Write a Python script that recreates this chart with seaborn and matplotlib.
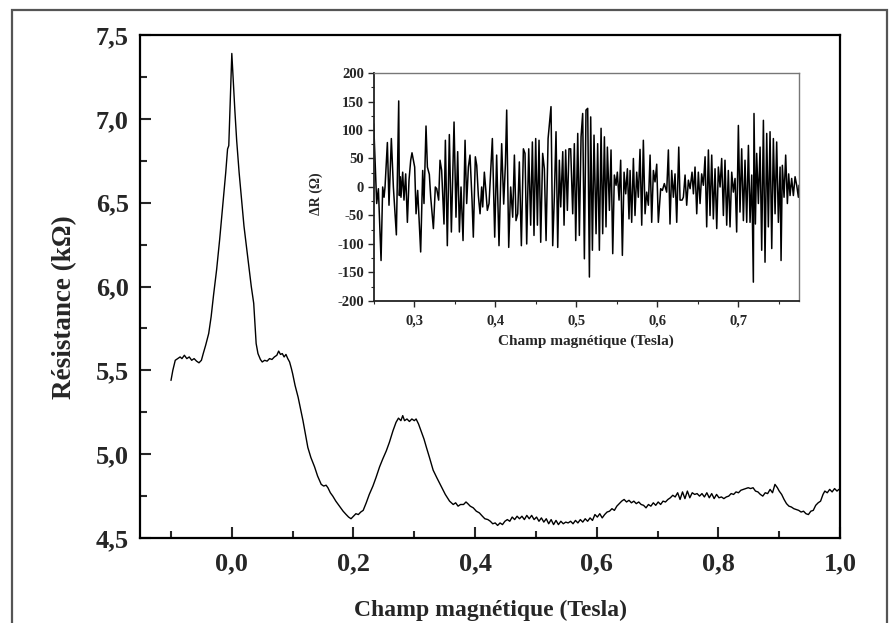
import numpy as np
import pandas as pd
import matplotlib
matplotlib.use("Agg")
import matplotlib.pyplot as plt
import matplotlib.ticker as mticker
from matplotlib.patches import Rectangle
import seaborn as sns

# ---------------- data: main curve ----------------
field_main = [
    -0.100, -0.097, -0.093, -0.089, -0.085, -0.082, -0.078, -0.074, -0.070, -0.066,
    -0.062, -0.058, -0.054, -0.050, -0.047, -0.043, -0.038, -0.034, -0.030, -0.025,
    -0.020, -0.015, -0.010, -0.007, -0.005, 0.000, 0.002, 0.005, 0.008, 0.012,
    0.016, 0.020, 0.024, 0.028, 0.032, 0.036, 0.038, 0.040, 0.043, 0.047,
    0.050, 0.054, 0.058, 0.062, 0.066, 0.070, 0.074, 0.077, 0.080, 0.083,
    0.086, 0.089, 0.092, 0.095, 0.098, 0.100, 0.104, 0.109, 0.113, 0.117,
    0.121, 0.125, 0.130, 0.136, 0.141, 0.147, 0.151, 0.155, 0.158, 0.162,
    0.166, 0.171, 0.177, 0.183, 0.188, 0.192, 0.196, 0.200, 0.204, 0.208,
    0.212, 0.216, 0.221, 0.226, 0.232, 0.237, 0.243, 0.248, 0.254, 0.259,
    0.265, 0.270, 0.274, 0.278, 0.281, 0.284, 0.288, 0.292, 0.296, 0.300,
    0.303, 0.307, 0.311, 0.316, 0.320, 0.325, 0.331, 0.337, 0.344, 0.351,
    0.358, 0.364, 0.368, 0.372, 0.376, 0.381, 0.385, 0.388, 0.392, 0.397,
    0.402, 0.407, 0.412, 0.416, 0.421, 0.425, 0.429, 0.433, 0.437, 0.441,
    0.445, 0.449, 0.453, 0.457, 0.461, 0.465, 0.469, 0.473, 0.477, 0.481,
    0.485, 0.489, 0.493, 0.497, 0.501, 0.505, 0.509, 0.513, 0.517, 0.521,
    0.525, 0.529, 0.533, 0.537, 0.541, 0.545, 0.549, 0.553, 0.557, 0.561,
    0.565, 0.569, 0.573, 0.577, 0.581, 0.585, 0.589, 0.593, 0.597, 0.601,
    0.605, 0.609, 0.613, 0.617, 0.621, 0.625, 0.629, 0.633, 0.637, 0.641,
    0.645, 0.649, 0.653, 0.657, 0.661, 0.665, 0.669, 0.673, 0.677, 0.681,
    0.685, 0.689, 0.693, 0.697, 0.701, 0.705, 0.709, 0.713, 0.717, 0.721,
    0.725, 0.729, 0.733, 0.737, 0.741, 0.745, 0.749, 0.753, 0.757, 0.761,
    0.765, 0.769, 0.773, 0.777, 0.781, 0.785, 0.789, 0.793, 0.797, 0.801,
    0.805, 0.809, 0.813, 0.817, 0.821, 0.825, 0.829, 0.833, 0.837, 0.841,
    0.845, 0.849, 0.853, 0.857, 0.861, 0.865, 0.869, 0.873, 0.877, 0.881,
    0.885, 0.889, 0.893, 0.897, 0.900, 0.904, 0.908, 0.912, 0.916, 0.920,
    0.924, 0.928, 0.932, 0.936, 0.940, 0.944, 0.948, 0.952, 0.956, 0.960,
    0.964, 0.968, 0.972, 0.975, 0.979, 0.983, 0.987, 0.991, 0.995, 0.998,
]
resistance_main = [
    5.44, 5.50, 5.56, 5.57, 5.58, 5.57, 5.59, 5.57, 5.58, 5.56,
    5.57, 5.555, 5.545, 5.56, 5.60, 5.65, 5.72, 5.82, 5.95, 6.10,
    6.28, 6.48, 6.68, 6.82, 6.84, 7.39, 7.25, 7.05, 6.87, 6.68,
    6.52, 6.36, 6.24, 6.12, 6.00, 5.90, 5.78, 5.66, 5.60, 5.565,
    5.55, 5.56, 5.555, 5.57, 5.565, 5.58, 5.59, 5.615, 5.595, 5.60,
    5.58, 5.595, 5.57, 5.55, 5.51, 5.48, 5.41, 5.34, 5.27, 5.20,
    5.12, 5.04, 4.98, 4.925, 4.87, 4.82, 4.81, 4.815, 4.80, 4.77,
    4.75, 4.72, 4.69, 4.66, 4.64, 4.625, 4.615, 4.63, 4.645, 4.64,
    4.655, 4.665, 4.71, 4.76, 4.81, 4.86, 4.925, 4.97, 5.02, 5.07,
    5.14, 5.19, 5.215, 5.20, 5.23, 5.20, 5.21, 5.195, 5.21, 5.20,
    5.21, 5.18, 5.14, 5.09, 5.04, 4.98, 4.905, 4.86, 4.81, 4.76,
    4.72, 4.70, 4.71, 4.69, 4.70, 4.70, 4.715, 4.705, 4.69, 4.68,
    4.66, 4.65, 4.63, 4.615, 4.61, 4.60, 4.585, 4.59, 4.575, 4.59,
    4.58, 4.60, 4.61, 4.60, 4.625, 4.61, 4.63, 4.615, 4.63, 4.61,
    4.635, 4.615, 4.635, 4.61, 4.625, 4.60, 4.62, 4.595, 4.615, 4.585,
    4.61, 4.58, 4.605, 4.58, 4.60, 4.585, 4.595, 4.59, 4.60, 4.585,
    4.605, 4.59, 4.61, 4.595, 4.615, 4.60, 4.62, 4.605, 4.64, 4.625,
    4.645, 4.62, 4.64, 4.655, 4.66, 4.675, 4.665, 4.69, 4.705, 4.72,
    4.73, 4.715, 4.725, 4.71, 4.72, 4.705, 4.715, 4.70, 4.695, 4.68,
    4.70, 4.69, 4.71, 4.695, 4.715, 4.70, 4.72, 4.715, 4.73, 4.74,
    4.755, 4.745, 4.77, 4.73, 4.775, 4.735, 4.78, 4.74, 4.77, 4.76,
    4.765, 4.75, 4.765, 4.745, 4.77, 4.74, 4.765, 4.735, 4.76, 4.74,
    4.745, 4.735, 4.745, 4.75, 4.765, 4.76, 4.775, 4.77, 4.785, 4.79,
    4.795, 4.80, 4.795, 4.80, 4.78, 4.775, 4.76, 4.75, 4.77, 4.765,
    4.79, 4.77, 4.82, 4.80, 4.78, 4.76, 4.73, 4.705, 4.69, 4.685,
    4.675, 4.67, 4.665, 4.655, 4.66, 4.645, 4.64, 4.66, 4.665, 4.695,
    4.71, 4.72, 4.76, 4.78, 4.77, 4.79, 4.775, 4.795, 4.78, 4.79,
]

# ---------------- data: inset ----------------
field_inset = [
    0.2500, 0.2537, 0.2558, 0.2591, 0.2611, 0.2628, 0.2640, 0.2669, 0.2689, 0.2718,
    0.2743, 0.2780, 0.2809, 0.2817, 0.2829, 0.2837, 0.2858, 0.2874, 0.2895, 0.2916,
    0.2936, 0.2957, 0.2973, 0.2990, 0.3006, 0.3023, 0.3043, 0.3080, 0.3105, 0.3121,
    0.3146, 0.3163, 0.3187, 0.3204, 0.3237, 0.3261, 0.3278, 0.3302, 0.3319, 0.3339,
    0.3368, 0.3385, 0.3409, 0.3434, 0.3459, 0.3492, 0.3516, 0.3537, 0.3558, 0.3578,
    0.3603, 0.3628, 0.3648, 0.3669, 0.3689, 0.3714, 0.3730, 0.3755, 0.3772, 0.3792,
    0.3813, 0.3833, 0.3846, 0.3866, 0.3883, 0.3903, 0.3924, 0.3965, 0.3994, 0.4018,
    0.4047, 0.4080, 0.4105, 0.4126, 0.4142, 0.4167, 0.4191, 0.4216, 0.4237, 0.4257,
    0.4278, 0.4298, 0.4323, 0.4348, 0.4368, 0.4389, 0.4414, 0.4438, 0.4459, 0.4479,
    0.4500, 0.4521, 0.4541, 0.4562, 0.4586, 0.4607, 0.4628, 0.4653, 0.4689, 0.4710,
    0.4730, 0.4751, 0.4772, 0.4792, 0.4809, 0.4834, 0.4850, 0.4870, 0.4891, 0.4911,
    0.4932, 0.4957, 0.4977, 0.4994, 0.5019, 0.5039, 0.5060, 0.5080, 0.5101, 0.5121,
    0.5142, 0.5163, 0.5179, 0.5200, 0.5220, 0.5245, 0.5265, 0.5286, 0.5307, 0.5327,
    0.5348, 0.5368, 0.5385, 0.5410, 0.5430, 0.5451, 0.5471, 0.5492, 0.5508, 0.5529,
    0.5549, 0.5570, 0.5591, 0.5611, 0.5632, 0.5652, 0.5665, 0.5685, 0.5706, 0.5726,
    0.5747, 0.5767, 0.5788, 0.5809, 0.5829, 0.5850, 0.5870, 0.5891, 0.5912, 0.5932,
    0.5953, 0.5973, 0.5994, 0.6014, 0.6043, 0.6064, 0.6088, 0.6117, 0.6138, 0.6158,
    0.6179, 0.6200, 0.6220, 0.6241, 0.6266, 0.6282, 0.6307, 0.6323, 0.6344, 0.6364,
    0.6385, 0.6406, 0.6430, 0.6447, 0.6467, 0.6488, 0.6508, 0.6529, 0.6549, 0.6570,
    0.6591, 0.6611, 0.6632, 0.6652, 0.6673, 0.6693, 0.6714, 0.6735, 0.6755, 0.6776,
    0.6796, 0.6817, 0.6837, 0.6858, 0.6878, 0.6899, 0.6920, 0.6940, 0.6961, 0.6981,
    0.7002, 0.7022, 0.7043, 0.7064, 0.7084, 0.7105, 0.7126, 0.7146, 0.7167, 0.7187,
    0.7195, 0.7212, 0.7228, 0.7249, 0.7270, 0.7290, 0.7311, 0.7331, 0.7352, 0.7372,
    0.7393, 0.7414, 0.7434, 0.7455, 0.7475, 0.7496, 0.7517, 0.7529, 0.7545, 0.7566,
    0.7586, 0.7607, 0.7623, 0.7640, 0.7660, 0.7681, 0.7702, 0.7722, 0.7743, 0.7751,
]
delta_r_inset = [
    111, -29, -3, -129, 0, -18, 0, 78, -32, 85,
    0, -84, 151, -15, 18, -18, 26, -23, 23, -62,
    12, 47, 60, 47, 35, -47, -6, -114, 29, -29,
    107, 35, 22, -18, -73, 0, -3, -23, 47, 29,
    -65, 82, -103, 92, -79, 114, -53, 62, -79, 0,
    -94, 82, -29, 35, 56, -23, -88, 53, 38, -15,
    -47, 0, -35, 26, -3, -41, -29, 85, -88, 56,
    -103, 76, -30, 40, 135, -106, 0, -53, 56, -59,
    -47, 44, -103, 67, 59, -100, 67, -67, 79, -85,
    85, -67, 82, -97, 59, 32, -94, 85, 141, -103,
    -18, 97, -106, 47, -35, 62, -67, 65, -41, 67,
    67, -47, 76, -94, 94, -85, 88, 129, -126, 135,
    138, -158, 123, -111, 91, -82, 76, -111, 103, -82,
    88, -70, 70, -41, 65, -117, 21, 3, 26, -23,
    47, -120, 26, -12, 32, -56, 29, -62, 50, -50,
    26, -18, 66, -67, 82, -47, -9, -32, 56, -62,
    29, 9, 40, -62, -3, -6, 6, -9, 65, -65,
    29, -18, 23, -62, 70, -23, -23, -18, 21, -32,
    12, -3, 26, -12, 35, -47, 26, -29, 23, 3,
    53, -70, 65, -50, 56, -56, 32, -73, 35, 0,
    50, -50, 47, -67, 29, -70, 26, -9, 15, -79,
    108, -44, 67, -59, 47, -62, 73, -62, 21, -167,
    129, -65, 59, -29, 70, -111, 117, -132, 94, -70,
    97, -108, 85, -47, 79, -62, 35, -129, 38, -18,
    56, -29, 23, -15, 15, -15, 18, 3, -18, 3,
]

main_xticks = [0.0, 0.2, 0.4, 0.6, 0.8, 1.0]
main_xminor = [-0.1, 0.1, 0.3, 0.5, 0.7, 0.9]
main_yticks = [4.5, 5.0, 5.5, 6.0, 6.5, 7.0, 7.5]
main_yminor = [4.75, 5.25, 5.75, 6.25, 6.75, 7.25]
inset_xticks = [0.3, 0.4, 0.5, 0.6, 0.7]
inset_xminor = [0.25, 0.35, 0.45, 0.55, 0.65, 0.75]
inset_yticks = [-200, -150, -100, -50, 0, 50, 100, 150, 200]
inset_yminor = [-175, -125, -75, -25, 25, 75, 125, 175]

main_df = pd.DataFrame({"B": field_main, "R": resistance_main})
inset_df = pd.DataFrame({"B": field_inset, "dR": delta_r_inset})

# ---------------- style ----------------
sns.set_style("ticks")
plt.rcParams["font.family"] = ["Liberation Serif", "DejaVu Serif"]
plt.rcParams["font.weight"] = "bold"

fig = plt.figure(figsize=(8.91, 6.23), dpi=100)

# outer frame
fig.patches.append(Rectangle((0.0135, -0.05), 0.982, 1.034, transform=fig.transFigure,
                             fill=False, edgecolor="#555555", linewidth=1.6, zorder=0))

ax = fig.add_axes([0.1571, 0.1364, 0.7857, 0.8074])
sns.lineplot(data=main_df, x="B", y="R", ax=ax, color="black", linewidth=1.0,
             sort=False, estimator=None)
ax.set_xlim(-0.151, 1.0)
ax.set_ylim(4.5, 7.5)

comma1 = mticker.FuncFormatter(lambda v, p: f"{v:.1f}".replace(".", ","))
ax.set_xticks(main_xticks)
ax.set_xticks(main_xminor, minor=True)
ax.set_yticks(main_yticks)
ax.set_yticks(main_yminor, minor=True)
ax.xaxis.set_major_formatter(comma1)
ax.yaxis.set_major_formatter(comma1)
ax.tick_params(axis="both", which="major", direction="in", length=8, width=1.5,
               labelsize=19, pad=8)
ax.tick_params(axis="both", which="minor", direction="in", length=5, width=1.5)
ax.tick_params(axis="x", which="major", pad=10)
for lab in ax.get_xticklabels() + ax.get_yticklabels():
    lab.set_fontweight("bold")
for s in ax.spines.values():
    s.set_visible(True)
    s.set_linewidth(1.6)
    s.set_color("black")
ax.set_xlabel("Champ magnétique (Tesla)", fontsize=17, fontweight="bold", labelpad=18)
ax.set_ylabel("Résistance (kΩ)", fontsize=19.5, fontweight="bold")
ax.yaxis.set_label_coords(-0.090, 0.459)

# ---------------- inset ----------------
ins = fig.add_axes([0.4194, 0.5169, 0.4773, 0.3659])
sns.lineplot(data=inset_df, x="B", y="dR", ax=ins, color="black", linewidth=1.1,
             sort=False, estimator=None)
ins.set_xlim(0.25, 0.775)
ins.set_ylim(-200, 200)
ins.set_xticks(inset_xticks)
ins.set_xticks(inset_xminor, minor=True)
ins.set_yticks(inset_yticks)
ins.set_yticks(inset_yminor, minor=True)
ins.xaxis.set_major_formatter(comma1)
ins.yaxis.set_major_formatter(mticker.FuncFormatter(lambda v, p: f"{int(v)}"))
ins.tick_params(axis="both", which="major", direction="out", length=4, width=1.0,
                labelsize=10.5, pad=3)
ins.tick_params(axis="x", which="major", pad=6)
ins.tick_params(axis="both", which="minor", direction="out", length=2.5, width=0.8)
for lab in ins.get_xticklabels() + ins.get_yticklabels():
    lab.set_fontweight("bold")
for side in ["left", "bottom"]:
    ins.spines[side].set_linewidth(1.3)
    ins.spines[side].set_color("#222222")
for side in ["top", "right"]:
    ins.spines[side].set_visible(True)
    ins.spines[side].set_linewidth(1.0)
    ins.spines[side].set_color("#777777")
ins.set_xlabel("Champ magnétique (Tesla)", fontsize=11, fontweight="bold", labelpad=5)
ins.set_ylabel("ΔR (Ω)", fontsize=10, fontweight="bold")
ins.yaxis.set_label_coords(-0.12, 0.47)

fig.savefig("out.png", dpi=100)
